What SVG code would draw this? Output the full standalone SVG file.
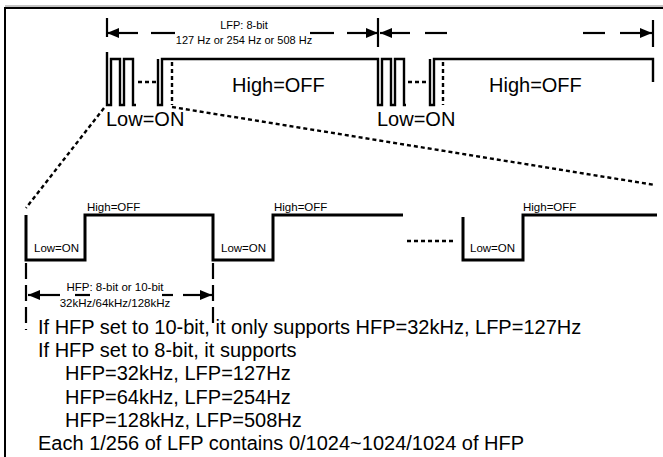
<svg xmlns="http://www.w3.org/2000/svg" width="663" height="457" viewBox="0 0 663 457">
<style>
  .txt { font-family: "Liberation Sans", Arial, sans-serif; fill: #000; }
  .big { font-size: 20px; }
  .sm { font-size: 11.5px; }
  .lfp { font-size: 11px; }
  .wave { fill: none; stroke: #000; stroke-width: 2.4; stroke-linejoin: miter; }
  .wave3 { fill: none; stroke: #000; stroke-width: 3; stroke-linejoin: miter; }
  .dim { fill: none; stroke: #000; stroke-width: 2.2; }
  .dot { fill: none; stroke: #000; stroke-width: 2.4; stroke-dasharray: 4 3; }
  .dash { fill: none; stroke: #000; stroke-width: 2.2; stroke-dasharray: 16 6; }
</style>
<defs>
  <marker id="ah" viewBox="0 0 12 10" refX="12" refY="5" markerWidth="13" markerHeight="10" markerUnits="userSpaceOnUse" orient="auto-start-reverse">
    <path d="M0,0 L12,5 L0,10 z" fill="#000"/>
  </marker>
</defs>
<rect width="663" height="457" fill="#fff"/>
<g id="frame">
  <path d="M5,470 V8 H680" fill="none" stroke="#000" stroke-width="2"/>
  <path d="M5,6 H680" fill="none" stroke="#888" stroke-width="1"/>
</g>

<g id="top-waveform">
  <path class="wave" d="M107,52 V105 H111 V59 H120 V105 H124 V59 H133 V105 H136"/>
  <path class="wave" d="M158,59 V105 H162 V59 H378 V105 H382 V59 H391 V105 H395 V59 H404 V105 H406"/>
  <path class="wave" d="M430,59 V105 H434 V59 H653 V82"/>
  <path class="dot" d="M138,82 H157"/>
  <path class="dot" d="M408,82 H428"/>
  <path class="dot" d="M172,62 V105"/>
  <path class="dot" d="M443,62 V105"/>
</g>
<g id="top-labels">
  <text class="txt big" x="232" y="92">High=OFF</text>
  <text class="txt big" x="489" y="92">High=OFF</text>
  <text class="txt big" x="106" y="126">Low=ON</text>
  <text class="txt big" x="377" y="126">Low=ON</text>
</g>

<g id="connectors">
  <!-- LFP dimension -->
  <path class="dim" d="M107,18 V37 M378,18 V47 M653,20 V47"/>
  <path class="dim" d="M107,33 H138" marker-start="url(#ah)"/>
  <path class="dim" d="M151,33 H175"/>
  <path class="dim" d="M310,33 H334"/>
  <path class="dim" d="M347,33 H378" marker-end="url(#ah)"/>
  <path class="dim" d="M380,33 H410" marker-start="url(#ah)"/>
  <path class="dim" d="M425,33 H447"/>
  <path class="dim" d="M583,33 H605"/>
  <path class="dim" d="M620,33 H652" marker-end="url(#ah)"/>
  <!-- zoom guide lines -->
  <path class="dot" d="M104,108 L26,208"/>
  <path class="dot" d="M172,107 L655,185"/>
  <!-- HFP dimension -->
  <path class="dash" d="M26,263 V330"/>
  <path class="dash" d="M213,263 V325"/>
  <path class="dim" d="M28,295 H60" marker-start="url(#ah)"/>
  <path class="dim" d="M75,295 H90"/>
  <path class="dim" d="M162,295 H173"/>
  <path class="dim" d="M183,295 H212" marker-end="url(#ah)"/>
</g>

<g id="lfp-label">
  <text class="txt lfp" x="244" y="29" text-anchor="middle">LFP: 8-bit</text>
  <text class="txt lfp" x="244" y="44" text-anchor="middle">127 Hz or 254 Hz or 508 Hz</text>
</g>

<g id="bottom-waveform">
  <path class="wave3" d="M26,215 V260 H85 V215 H213 V260 H273 V215 H403"/>
  <path class="wave3" d="M463,217 V260 H523 V215 H657"/>
  <path class="dot" d="M407,241 H454"/>
  <text class="txt sm" x="87" y="211">High=OFF</text>
  <text class="txt sm" x="274" y="211">High=OFF</text>
  <text class="txt sm" x="523" y="211">High=OFF</text>
  <text class="txt sm" x="34" y="252">Low=ON</text>
  <text class="txt sm" x="221" y="252">Low=ON</text>
  <text class="txt sm" x="470" y="252">Low=ON</text>
</g>

<g id="hfp-label">
  <text class="txt sm" x="115" y="291" text-anchor="middle">HFP: 8-bit or 10-bit</text>
  <text class="txt sm" x="115" y="307" text-anchor="middle">32kHz/64kHz/128kHz</text>
</g>

<g id="notes">
  <text class="txt big" x="38" y="334">If HFP set to 10-bit, it only supports HFP=32kHz, LFP=127Hz</text>
  <text class="txt big" x="38" y="357">If HFP set to 8-bit, it supports</text>
  <text class="txt big" x="65" y="380">HFP=32kHz, LFP=127Hz</text>
  <text class="txt big" x="65" y="404">HFP=64kHz, LFP=254Hz</text>
  <text class="txt big" x="65" y="427">HFP=128kHz, LFP=508Hz</text>
  <text class="txt big" x="38" y="450">Each 1/256 of LFP contains 0/1024~1024/1024 of HFP</text>
</g>
</svg>
